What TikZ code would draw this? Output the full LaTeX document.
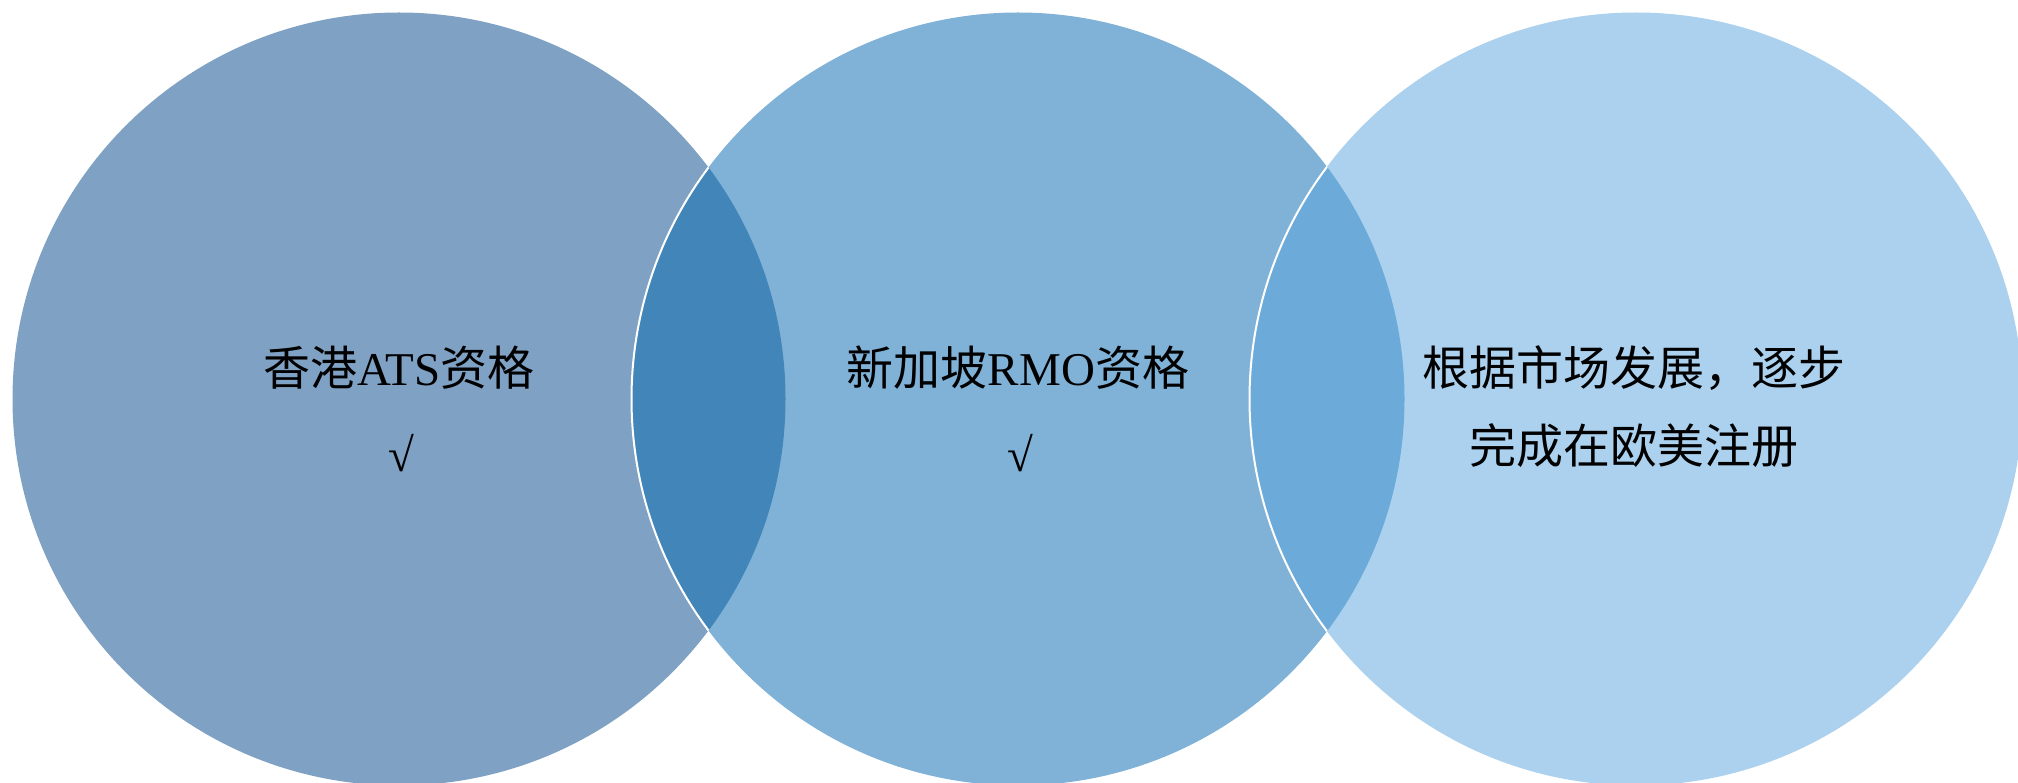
\documentclass[tikz,border=0pt]{standalone}
\usepackage{fontspec}
\setmainfont{Liberation Serif}
\newfontfamily\cjk{Noto Sans CJK SC}
\definecolor{cA}{RGB}{127,161,196}
\definecolor{cB}{RGB}{128,178,216}
\definecolor{cC}{RGB}{171,209,238}
\definecolor{cAB}{RGB}{66,133,185}
\definecolor{cBC}{RGB}{108,171,217}
\begin{document}
\begin{tikzpicture}[x=1pt,y=-1pt,
  lbl/.style={font=\fontsize{47}{56}\selectfont, inner sep=0pt, anchor=center, text=black},
  rim/.style={draw=white, line width=2pt}]
\useasboundingbox (0,0) rectangle (2018,783);
\clip (0,0) rectangle (2018,783);
\coordinate (c1) at (399,399);
\coordinate (c2) at (1018,399);
\coordinate (c3) at (1636,399);
\fill[cA] (c1) circle[radius=386.5pt];
\fill[cB] (c2) circle[radius=386.5pt];
\fill[cC] (c3) circle[radius=386.5pt];
\begin{scope}
  \clip (c1) circle[radius=386.5pt];
  \fill[cAB] (c2) circle[radius=386.5pt];
  \draw[rim] (c2) circle[radius=386.5pt];
\end{scope}
\begin{scope}
  \clip (c2) circle[radius=386.5pt];
  \fill[cBC] (c3) circle[radius=386.5pt];
  \draw[rim] (c3) circle[radius=386.5pt];
\end{scope}
\node[lbl] (t1) at (399,368) {{\cjk 香港}ATS{\cjk 资格}};
\node[lbl] (k1) at (401,453) {√};
\node[lbl] (t2) at (1018,368) {{\cjk 新加坡}RMO{\cjk 资格}};
\node[lbl] (k2) at (1020,453) {√};
\node[lbl] (t3a) at (1634,368) {\cjk 根据市场发展，逐步};
\node[lbl] (t3b) at (1634,446) {\cjk 完成在欧美注册};
\end{tikzpicture}
\end{document}
